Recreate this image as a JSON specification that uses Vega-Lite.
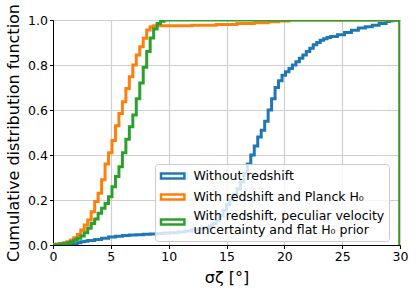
{
  "$schema": "https://vega.github.io/schema/vega-lite/v6.json",
  "width": 347,
  "height": 225,
  "autosize": "none",
  "padding": {"left": 53, "top": 20, "right": 16, "bottom": 49},
  "background": "white",
  "datasets": {
    "blue": [
      {"x": 0, "y": 0}, {"x": 1.5, "y": 0.002}, {"x": 1.8, "y": 0.005}, {"x": 2.1, "y": 0.01}, {"x": 2.4, "y": 0.014}, {"x": 2.7, "y": 0.017}, {"x": 3.0, "y": 0.02}, {"x": 3.6, "y": 0.025}, {"x": 4.2, "y": 0.03}, {"x": 4.8, "y": 0.036}, {"x": 5.4, "y": 0.039}, {"x": 6.0, "y": 0.042}, {"x": 6.6, "y": 0.044}, {"x": 7.2, "y": 0.046}, {"x": 7.8, "y": 0.048}, {"x": 8.4, "y": 0.049}, {"x": 9.0, "y": 0.051}, {"x": 9.6, "y": 0.053}, {"x": 10.2, "y": 0.055}, {"x": 10.8, "y": 0.058}, {"x": 11.4, "y": 0.062}, {"x": 12.0, "y": 0.067}, {"x": 12.6, "y": 0.072}, {"x": 13.2, "y": 0.078}, {"x": 13.5, "y": 0.085}, {"x": 13.8, "y": 0.095}, {"x": 14.1, "y": 0.11}, {"x": 14.4, "y": 0.13}, {"x": 14.7, "y": 0.155}, {"x": 15.0, "y": 0.18}, {"x": 15.3, "y": 0.2}, {"x": 15.6, "y": 0.225}, {"x": 15.9, "y": 0.25}, {"x": 16.2, "y": 0.28}, {"x": 16.5, "y": 0.32}, {"x": 16.8, "y": 0.36}, {"x": 17.1, "y": 0.4}, {"x": 17.4, "y": 0.44}, {"x": 17.7, "y": 0.48}, {"x": 18.0, "y": 0.51}, {"x": 18.3, "y": 0.55}, {"x": 18.6, "y": 0.6}, {"x": 18.9, "y": 0.65}, {"x": 19.2, "y": 0.7}, {"x": 19.5, "y": 0.73}, {"x": 19.8, "y": 0.755}, {"x": 20.1, "y": 0.77}, {"x": 20.4, "y": 0.785}, {"x": 20.7, "y": 0.8}, {"x": 21.0, "y": 0.815}, {"x": 21.3, "y": 0.83}, {"x": 21.6, "y": 0.845}, {"x": 21.9, "y": 0.86}, {"x": 22.2, "y": 0.875}, {"x": 22.5, "y": 0.89}, {"x": 22.8, "y": 0.9}, {"x": 23.1, "y": 0.91}, {"x": 23.4, "y": 0.917}, {"x": 23.7, "y": 0.922}, {"x": 24.0, "y": 0.927}, {"x": 24.6, "y": 0.935}, {"x": 25.2, "y": 0.945}, {"x": 25.8, "y": 0.955}, {"x": 26.4, "y": 0.965}, {"x": 27.0, "y": 0.97}, {"x": 27.6, "y": 0.977}, {"x": 28.2, "y": 0.985}, {"x": 28.8, "y": 0.993}, {"x": 29.1, "y": 0.997}, {"x": 29.4, "y": 1.0}, {"x": 30, "y": 1.0}, {"x": 30, "y": 0}
    ],
    "orange": [
      {"x": 0, "y": 0.002}, {"x": 0.3, "y": 0.004}, {"x": 0.6, "y": 0.007}, {"x": 0.9, "y": 0.01}, {"x": 1.2, "y": 0.015}, {"x": 1.5, "y": 0.022}, {"x": 1.8, "y": 0.032}, {"x": 2.1, "y": 0.047}, {"x": 2.4, "y": 0.067}, {"x": 2.7, "y": 0.089}, {"x": 3.0, "y": 0.111}, {"x": 3.3, "y": 0.148}, {"x": 3.6, "y": 0.193}, {"x": 3.9, "y": 0.23}, {"x": 4.2, "y": 0.29}, {"x": 4.5, "y": 0.36}, {"x": 4.8, "y": 0.41}, {"x": 5.1, "y": 0.465}, {"x": 5.4, "y": 0.53}, {"x": 5.7, "y": 0.585}, {"x": 6.0, "y": 0.637}, {"x": 6.3, "y": 0.696}, {"x": 6.6, "y": 0.748}, {"x": 6.9, "y": 0.8}, {"x": 7.2, "y": 0.844}, {"x": 7.5, "y": 0.881}, {"x": 7.8, "y": 0.919}, {"x": 8.1, "y": 0.956}, {"x": 8.4, "y": 0.97}, {"x": 8.7, "y": 0.975}, {"x": 12.0, "y": 0.977}, {"x": 14.1, "y": 0.98}, {"x": 15.9, "y": 0.984}, {"x": 17.4, "y": 0.988}, {"x": 18.6, "y": 0.992}, {"x": 19.5, "y": 0.996}, {"x": 20.4, "y": 1.0}, {"x": 30, "y": 1.0}, {"x": 30, "y": 0}
    ],
    "green": [
      {"x": 0, "y": 0.001}, {"x": 0.3, "y": 0.002}, {"x": 0.6, "y": 0.004}, {"x": 0.9, "y": 0.006}, {"x": 1.2, "y": 0.01}, {"x": 1.5, "y": 0.015}, {"x": 1.8, "y": 0.022}, {"x": 2.1, "y": 0.03}, {"x": 2.4, "y": 0.04}, {"x": 2.7, "y": 0.055}, {"x": 3.0, "y": 0.074}, {"x": 3.3, "y": 0.096}, {"x": 3.6, "y": 0.116}, {"x": 3.9, "y": 0.141}, {"x": 4.2, "y": 0.163}, {"x": 4.5, "y": 0.185}, {"x": 4.8, "y": 0.215}, {"x": 5.1, "y": 0.259}, {"x": 5.4, "y": 0.304}, {"x": 5.7, "y": 0.348}, {"x": 6.0, "y": 0.41}, {"x": 6.3, "y": 0.47}, {"x": 6.6, "y": 0.526}, {"x": 6.9, "y": 0.578}, {"x": 7.2, "y": 0.65}, {"x": 7.5, "y": 0.72}, {"x": 7.8, "y": 0.79}, {"x": 8.1, "y": 0.86}, {"x": 8.4, "y": 0.92}, {"x": 8.7, "y": 0.96}, {"x": 9.0, "y": 0.985}, {"x": 9.3, "y": 0.995}, {"x": 9.6, "y": 1.0}, {"x": 30, "y": 1.0}, {"x": 30, "y": 0}
    ]
  },
  "encoding": {
    "x": {"field": "x", "type": "quantitative", "scale": {"domain": [0, 30], "nice": false, "zero": false},
      "axis": {"values": [0, 5, 10, 15, 20, 25, 30], "title": "σζ [°]", "titlePadding": 6, "labelOverlap": false, "labelFlush": false}},
    "y": {"field": "y", "type": "quantitative", "scale": {"domain": [0, 1], "nice": false},
      "axis": {"values": [0, 0.2, 0.4, 0.6, 0.8, 1.0], "format": ".1f", "title": "Cumulative distribution function", "titlePadding": 6, "labelOverlap": false, "labelFlush": false}},
    "order": {"value": null}
  },
  "layer": [
    {
      "data": {"name": "blue"},
      "mark": {"type": "line", "interpolate": "step-after", "strokeWidth": 3, "clip": true},
      "encoding": {"color": {"datum": "Without redshift", "type": "nominal",
        "scale": {"domain": ["Without redshift", "With redshift and Planck H₀", "With redshift, peculiar velocity\u00a0\u00a0|\u00a0uncertainty and flat H₀ prior"], "range": ["#1f77b4", "#ff7f0e", "#2ca02c"]},
        "legend": {"title": null, "orient": "none", "legendX": 102, "legendY": 144,
          "labelExpr": "split(datum.label, '|')",
          "symbolType": "M-1,-0.42H2.9V0.42H-1Z", "symbolSize": 144, "symbolStrokeWidth": 2.5, "symbolFillColor": "transparent",
          "labelFont": "DejaVu Sans", "labelFontSize": 12.5, "labelColor": "black", "labelOffset": 19, "labelLimit": 400,
          "rowPadding": 4, "padding": 4.5, "fillColor": "rgba(255,255,255,0.8)", "strokeColor": "#cccccc", "cornerRadius": 3,
          "encode": {"labels": {"update": {"dy": {"signal": "indexof(datum.value, '|') >= 0 ? -6.5 : 0"}}}}}}}
    },
    {
      "data": {"name": "orange"},
      "mark": {"type": "line", "interpolate": "step-after", "strokeWidth": 3, "clip": true},
      "encoding": {"color": {"datum": "With redshift and Planck H₀", "type": "nominal"}}
    },
    {
      "data": {"name": "green"},
      "mark": {"type": "line", "interpolate": "step-after", "strokeWidth": 3, "clip": true},
      "encoding": {"color": {"datum": "With redshift, peculiar velocity\u00a0\u00a0|\u00a0uncertainty and flat H₀ prior", "type": "nominal"}}
    }
  ],
  "config": {
    "font": "DejaVu Sans",
    "view": {"stroke": "black", "strokeWidth": 1},
    "axis": {
      "domainColor": "black", "domainWidth": 1, "tickColor": "black", "tickSize": 3.5, "tickWidth": 1,
      "labelFont": "DejaVu Sans", "labelFontSize": 12.5, "labelColor": "black", "labelPadding": 2,
      "titleFont": "DejaVu Sans", "titleFontSize": 16, "titleFontWeight": "normal", "titleColor": "black",
      "grid": true, "gridColor": "#cfcfcf", "gridWidth": 1.2
    }
  }
}
